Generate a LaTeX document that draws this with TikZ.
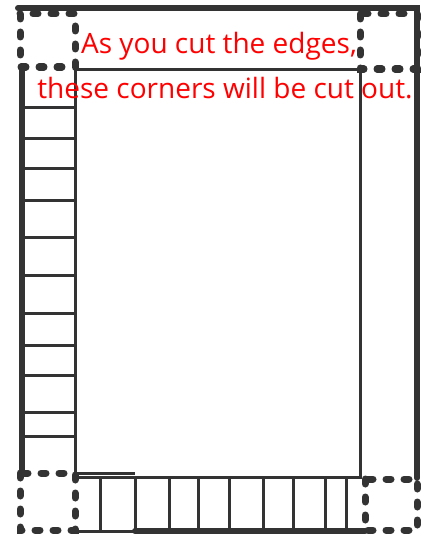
\documentclass[tikz,border=0pt]{standalone}
\usepackage{fontspec}
\setmainfont{Open Sans}
\begin{document}
\begin{tikzpicture}[
    x=1pt,
    y=-1pt,
    frame line/.style={
        draw=black!80,
        line width=6pt,
        line cap=round
    },
    strip line/.style={
        draw=black!80,
        line width=3pt
    },
    cut corner/.style={
        draw=black!80,
        line width=7pt,
        line cap=round,
        dash pattern=on 5pt off 13pt
    },
    note text/.style={
        text=red,
        font=\fontsize{28}{32}\selectfont,
        inner sep=0pt,
        anchor=base
    }
]

\useasboundingbox (0,0) rectangle (425,535);

\def\stripL{22}
\def\innerL{75}
\def\innerR{360}
\def\outerR{417}

%% --- Cadre extérieur ---
\draw[frame line] (18,8) -- (\outerR,8) -- (\outerR,478);
\draw[frame line] (\stripL,67) -- (\stripL,472);
\draw[frame line] (135,531) -- (365,531);
\draw[strip line] (\innerL,531) -- (135,531);

%% --- Rectangle intérieur ---
\draw[strip line] (\innerL,69) rectangle (\innerR,477);
\draw[strip line] (\innerL,473) -- (135,473);

%% --- Bande gauche (traits horizontaux) ---
\foreach \ty in {107,138,168,200,237,275,313,345,375,412,436} {
    \draw[strip line] (\stripL,\ty) -- (\innerL,\ty);
}

%% --- Bande du bas (traits verticaux) ---
\foreach \tx in {100,135,169,198,229,263,293,325,346} {
    \draw[strip line] (\tx,477) -- (\tx,531);
}

%% --- Coins à découper ---
\draw[cut corner] (20,14) rectangle (\innerL,67);
\draw[cut corner] (\innerR,14) rectangle (\outerR,69);
\draw[cut corner] (20,473) rectangle (\innerL,530);
\draw[cut corner] (365,479) rectangle (\outerR,530);

%% --- Texte ---
\node[note text] (note1) at (219,54) {As you cut the edges,};
\node[note text] (note2) at (225,98) {these corners will be cut out.};

\end{tikzpicture}
\end{document}
